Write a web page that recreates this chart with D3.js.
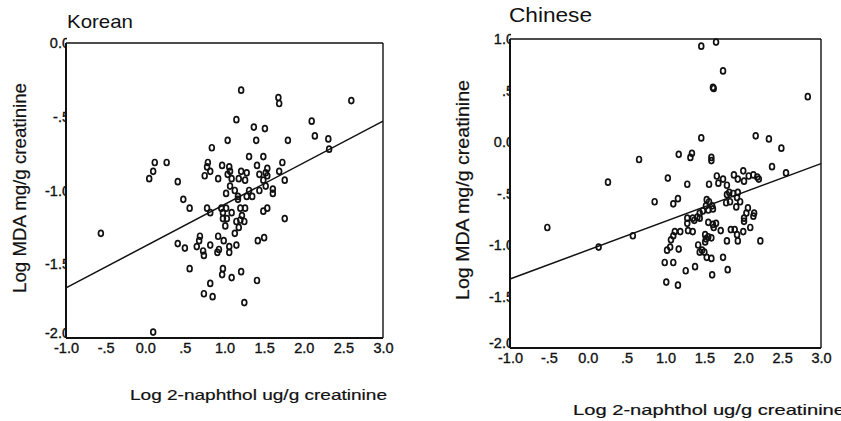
<!DOCTYPE html>
<html>
<head>
<meta charset="utf-8">
<script src="https://cdn.jsdelivr.net/npm/d3@7"></script>
<style>
  html, body { margin: 0; padding: 0; background: #fff; }
  svg { display: block; }
  text { font-family: "Liberation Sans", Arial, sans-serif; fill: #111; }
</style>
</head>
<body>
<svg id="chart" width="841" height="421"></svg>
<script>
// Korean group: log 2-naphthol (x) vs log MDA (y)
const koreanX = [-0.56,0.10,1.21,1.68,1.69,2.60,1.15,2.10,1.37,1.51,1.04,1.40,1.80,2.14,2.31,2.32,0.84,0.12,0.27,0.10,
  0.05,0.41,0.79,0.78,0.82,0.75,0.97,0.92,1.06,1.07,1.04,1.09,1.21,1.28,1.31,1.49,1.41,1.54,1.52,1.54,
  1.73,1.69,1.76,1.44,1.18,1.26,1.07,1.49,1.52,1.61,1.61,1.44,1.02,1.13,1.17,1.28,1.31,1.35,0.48,0.56,
  0.78,0.82,0.96,1.02,0.98,0.98,1.03,1.09,1.01,1.20,1.26,1.17,1.22,1.20,1.15,1.25,1.18,1.13,1.49,1.54,
  1.76,0.69,0.68,0.92,0.99,0.41,0.50,0.65,0.73,0.74,0.82,0.91,0.93,1.06,1.06,1.15,1.42,1.50,0.56,0.98,
  0.97,1.09,1.21,1.41,0.82,0.74,0.85,1.25];
const koreanY = [-1.29,-1.96,-0.32,-0.37,-0.41,-0.39,-0.52,-0.53,-0.57,-0.58,-0.66,-0.66,-0.66,-0.63,-0.65,-0.72,-0.71,-0.81,-0.81,-0.87,
  -0.92,-0.94,-0.81,-0.84,-0.87,-0.90,-0.83,-0.92,-0.84,-0.87,-0.89,-0.92,-0.87,-0.88,-0.77,-0.77,-0.83,-0.85,-0.88,-0.90,
  -0.81,-0.87,-0.93,-0.89,-0.92,-0.93,-0.97,-0.93,-0.97,-0.99,-1.02,-1.00,-1.02,-1.00,-1.04,-1.04,-1.00,-1.04,-1.06,-1.12,
  -1.12,-1.15,-1.12,-1.12,-1.15,-1.19,-1.19,-1.15,-1.24,-1.12,-1.12,-1.06,-1.17,-1.20,-1.21,-1.21,-1.25,-1.29,-1.14,-1.12,
  -1.19,-1.31,-1.34,-1.31,-1.34,-1.36,-1.39,-1.38,-1.41,-1.44,-1.37,-1.42,-1.40,-1.38,-1.42,-1.37,-1.34,-1.32,-1.53,-1.53,
  -1.57,-1.59,-1.55,-1.61,-1.63,-1.70,-1.72,-1.76];
const koreanFit = [[-1.0, -1.66], [3.0, -0.53]];

// Chinese group
const chineseX = [1.46,1.65,1.74,1.61,1.62,2.83,-0.52,0.26,0.66,0.86,1.03,1.10,1.16,1.17,1.32,1.34,1.46,1.28,1.59,1.59,
  2.16,2.33,2.49,2.37,2.55,1.56,1.66,1.74,1.68,1.88,1.93,2.00,2.01,2.07,2.13,2.18,2.20,1.79,1.82,1.79,
  1.87,1.93,1.92,1.83,1.78,1.96,1.91,1.53,1.56,1.52,1.60,1.55,1.61,1.48,1.44,2.06,2.14,2.04,2.01,1.41,
  1.35,1.28,0.14,0.58,1.12,1.19,1.10,1.07,1.06,1.02,1.17,0.99,1.10,1.01,1.16,1.26,1.38,1.28,1.37,1.44,
  1.29,1.35,1.55,1.61,1.65,1.62,1.71,1.51,1.55,1.52,1.59,1.51,1.42,1.47,1.44,1.50,1.53,1.59,1.74,1.79,
  1.60,1.80,1.84,1.89,1.92,1.93,2.00,2.01,2.09,2.13,2.22];
const chineseY = [0.93,0.97,0.69,0.53,0.52,0.44,-0.83,-0.39,-0.17,-0.58,-0.35,-0.60,-0.55,-0.12,-0.15,-0.11,0.04,-0.41,-0.15,-0.18,
  0.06,0.03,-0.06,-0.24,-0.30,-0.41,-0.33,-0.36,-0.40,-0.32,-0.36,-0.28,-0.38,-0.33,-0.32,-0.34,-0.36,-0.42,-0.49,-0.51,
  -0.50,-0.49,-0.54,-0.58,-0.59,-0.58,-0.63,-0.56,-0.58,-0.62,-0.62,-0.66,-0.65,-0.67,-0.69,-0.64,-0.69,-0.69,-0.74,-0.73,
  -0.74,-0.74,-1.02,-0.91,-0.87,-0.87,-0.91,-0.95,-1.02,-1.05,-1.04,-1.17,-1.17,-1.36,-1.39,-1.25,-1.21,-0.79,-0.76,-0.74,
  -0.86,-0.87,-0.78,-0.80,-0.79,-0.83,-0.86,-0.90,-0.92,-0.94,-0.93,-0.97,-1.00,-1.05,-1.07,-1.07,-1.12,-1.13,-1.12,-0.96,
  -1.29,-1.24,-0.85,-0.85,-0.90,-0.96,-0.87,-0.77,-0.83,-0.72,-0.96];
const chineseFit = [[-1.0, -1.33], [3.0, -0.21]];

const xTicks = [-1.0, -0.5, 0.0, 0.5, 1.0, 1.5, 2.0, 2.5, 3.0];
const xTickLabels = ["-1.0", "-.5", "0.0", ".5", "1.0", "1.5", "2.0", "2.5", "3.0"];
const koreanYTicks = [0.0, -0.5, -1.0, -1.5, -2.0];
const koreanYTickLabels = ["0.0", "-.5", "-1.0", "-1.5", "-2.0"];
const chineseYTicks = [1.0, 0.5, 0.0, -0.5, -1.0, -1.5, -2.0];
const chineseYTickLabels = ["1.0", ".5", "0.0", "-.5", "-1.0", "-1.5", "-2.0"];

const svg = d3.select("#chart");
const defs = svg.append("defs");

function drawPanel(p) {
  const x = d3.scaleLinear().domain([-1, 3]).range([p.left, p.right]);
  const y = d3.scaleLinear().domain(p.yDomain).range([p.bottom, p.top]);
  const g = svg.append("g");
  const ink = "#111";

  // title
  g.append("text")
    .attr("x", p.titleX).attr("y", p.titleY)
    .attr("font-size", p.titleSize)
    .attr("textLength", p.titleLen).attr("lengthAdjust", "spacingAndGlyphs")
    .text(p.title);

  // y tick labels; the last digit runs in under the frame
  const clipId = "clip-" + p.id;
  defs.append("clipPath").attr("id", clipId)
    .append("rect").attr("x", -200).attr("y", -500).attr("width", 201).attr("height", 1500);
  const yAxis = d3.axisLeft(y).tickValues(p.yTicks)
    .tickFormat((d, i) => p.yTickLabels[i]).tickSize(0).tickPadding(-4);
  const ya = g.append("g").attr("transform", `translate(${p.left},0)`)
    .attr("clip-path", `url(#${clipId})`).call(yAxis);
  ya.select(".domain").remove();
  ya.selectAll("text").attr("font-size", 14.5).attr("fill", ink)
    .attr("stroke", ink).attr("stroke-width", 0.35)
    .attr("font-family", "'Liberation Sans', Arial, sans-serif");
  // lift the lowest label clear of the x labels
  ya.selectAll(".tick").filter(d => d === p.yDomain[0]).select("text").attr("dy", "-0.05em");

  // x tick labels
  const xAxis = d3.axisBottom(x).tickValues(xTicks)
    .tickFormat((d, i) => xTickLabels[i]).tickSize(0).tickPadding(p.xPad);
  const xa = g.append("g").attr("transform", `translate(0,${p.bottom})`).call(xAxis);
  xa.select(".domain").remove();
  xa.selectAll("text").attr("font-size", 14.5).attr("fill", ink)
    .attr("stroke", ink).attr("stroke-width", 0.35)
    .attr("font-family", "'Liberation Sans', Arial, sans-serif");

  // frame
  g.append("line").attr("x1", p.left).attr("x2", p.right).attr("y1", p.top).attr("y2", p.top)
    .attr("stroke", ink).attr("stroke-width", 1.4);
  g.append("line").attr("x1", p.right).attr("x2", p.right).attr("y1", p.top).attr("y2", p.bottom)
    .attr("stroke", ink).attr("stroke-width", 1.4);
  g.append("line").attr("x1", p.left).attr("x2", p.left).attr("y1", p.top).attr("y2", p.bottom)
    .attr("stroke", ink).attr("stroke-width", 2);
  g.append("line").attr("x1", p.left).attr("x2", p.right).attr("y1", p.bottom).attr("y2", p.bottom)
    .attr("stroke", ink).attr("stroke-width", 2);

  // fitted line
  g.append("path")
    .attr("d", d3.line().x(d => x(d[0])).y(d => y(d[1]))(p.fit))
    .attr("fill", "none").attr("stroke", ink).attr("stroke-width", 1.5);

  // points
  const pts = p.xs.map((v, i) => [v, p.ys[i]]);
  g.append("g").selectAll("ellipse").data(pts).join("ellipse")
    .attr("cx", d => x(d[0])).attr("cy", d => y(d[1]))
    .attr("rx", 2.4).attr("ry", 3.0)
    .attr("fill", "none").attr("stroke", ink).attr("stroke-width", 1.7);

  // axis titles
  g.append("text")
    .attr("transform", `translate(${p.yTitleX},${p.yTitleY}) rotate(-90)`)
    .attr("text-anchor", "middle").attr("font-size", 18)
    .attr("stroke", ink).attr("stroke-width", 0.2)
    .attr("textLength", p.yTitleLen).attr("lengthAdjust", "spacingAndGlyphs")
    .text("Log MDA mg/g creatinine");
  g.append("text")
    .attr("x", p.xTitleX).attr("y", p.xTitleY)
    .attr("font-size", 15)
    .attr("stroke", ink).attr("stroke-width", 0.2)
    .attr("textLength", p.xTitleLen).attr("lengthAdjust", "spacingAndGlyphs")
    .text("Log 2-naphthol ug/g creatinine");
}

drawPanel({
  id: "korean", title: "Korean", titleX: 67, titleY: 28, titleSize: 19, titleLen: 66,
  left: 66, right: 383, top: 43, bottom: 338, yDomain: [-2, 0],
  yTicks: koreanYTicks, yTickLabels: koreanYTickLabels, xPad: 5,
  xs: koreanX, ys: koreanY, fit: koreanFit,
  yTitleX: 26, yTitleY: 188, yTitleLen: 210,
  xTitleX: 130, xTitleY: 400, xTitleLen: 257
});

drawPanel({
  id: "chinese", title: "Chinese", titleX: 509, titleY: 22, titleSize: 20, titleLen: 83,
  left: 510, right: 821, top: 39, bottom: 348, yDomain: [-2, 1],
  yTicks: chineseYTicks, yTickLabels: chineseYTickLabels, xPad: 5,
  xs: chineseX, ys: chineseY, fit: chineseFit,
  yTitleX: 469, yTitleY: 190, yTitleLen: 220,
  xTitleX: 573, xTitleY: 415, xTitleLen: 272
});
</script>
</body>
</html>
